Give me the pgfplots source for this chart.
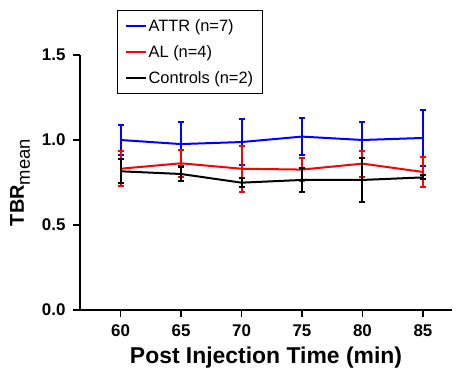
\documentclass[border=0pt]{standalone}
\usepackage{pgfplots}
\pgfplotsset{compat=1.18}
\usepackage{fontspec}
\setmainfont{Liberation Sans}
\definecolor{attr}{RGB}{0,0,255}
\definecolor{alc}{RGB}{255,0,0}
\begin{document}
\begin{tikzpicture}[x=1bp,y=1bp]
\useasboundingbox (-80bp,-67bp) rectangle (380bp,310bp);
\begin{axis}[
  scale only axis,
  width=372bp, height=255bp,
  at={(0,0)}, anchor=south west,
  xmin=56.65, xmax=87.4,
  ymin=0, ymax=1.5,
  axis lines=left,
  axis line style={-, line width=1.8bp},
  major tick length=7bp,
  tick style={line width=1.8bp, black},
  tick align=outside,
  xtick={60,65,70,75,80,85},
  ytick={0,0.5,1,1.5},
  yticklabel style={/pgf/number format/fixed, /pgf/number format/fixed zerofill, /pgf/number format/precision=1, xshift=-4bp},
  xticklabel style={yshift=-4bp},
  /pgf/number format/assume math mode=true,
  ticklabel style={font=\fontsize{17}{19}\selectfont\bfseries},
  xlabel={\textbf{Post Injection Time (min)}},
  ylabel={\fontsize{20}{23}\selectfont\textbf{TBR}\raisebox{-0.3em}{\fontsize{18.5}{21}\selectfont mean}},
  label style={font=\fontsize{23}{26}\selectfont},
  xlabel style={yshift=-4bp},
  ylabel style={yshift=5bp},
  legend style={at={(0.0995,1.176)}, anchor=north west, draw=black, line width=1.2bp,
    font=\fontsize{16.5}{19}\selectfont, row sep=8.5bp, inner xsep=7bp, inner ysep=7bp,
    cells={anchor=west}},
  legend image code/.code={\draw[line width=2bp] (0bp,0bp) -- (20bp,0bp);},
  clip=false,
]
\addplot[attr, line width=2bp, mark=none, error bars/.cd, y dir=both, y explicit,
  error bar style={line width=2bp, attr}, error mark options={rotate=90, mark size=3bp, line width=2bp, attr}]
  coordinates {(60,1.000) +- (0,0.090) (65,0.976) +- (0,0.130) (70,0.988) +- (0,0.133)
               (75,1.020) +- (0,0.110) (80,1.000) +- (0,0.108) (85,1.012) +- (0,0.165)};
\addlegendentry{ATTR (n=7)}
\addplot[alc, line width=2bp, mark=none, error bars/.cd, y dir=both, y explicit,
  error bar style={line width=2bp, alc}, error mark options={rotate=90, mark size=3bp, line width=2bp, alc}]
  coordinates {(60,0.831) +- (0,0.103) (65,0.863) +- (0,0.078) (70,0.831) +- (0,0.135)
               (75,0.826) +- (0,0.066) (80,0.861) +- (0,0.077) (85,0.812) +- (0,0.088)};
\addlegendentry{AL (n=4)}
\addplot[black, line width=2bp, mark=none, error bars/.cd, y dir=both, y explicit,
  error bar style={line width=2bp, black}, error mark options={rotate=90, mark size=3bp, line width=2bp, black}]
  coordinates {(60,0.816) +- (0,0.070) (65,0.800) +- (0,0.042) (70,0.749) +- (0,0.027)
               (75,0.765) +- (0,0.069) (80,0.765) +- (0,0.128) (85,0.780) +- (0,0.012)};
\addlegendentry{Controls (n=2)}
\end{axis}
\end{tikzpicture}
\end{document}
